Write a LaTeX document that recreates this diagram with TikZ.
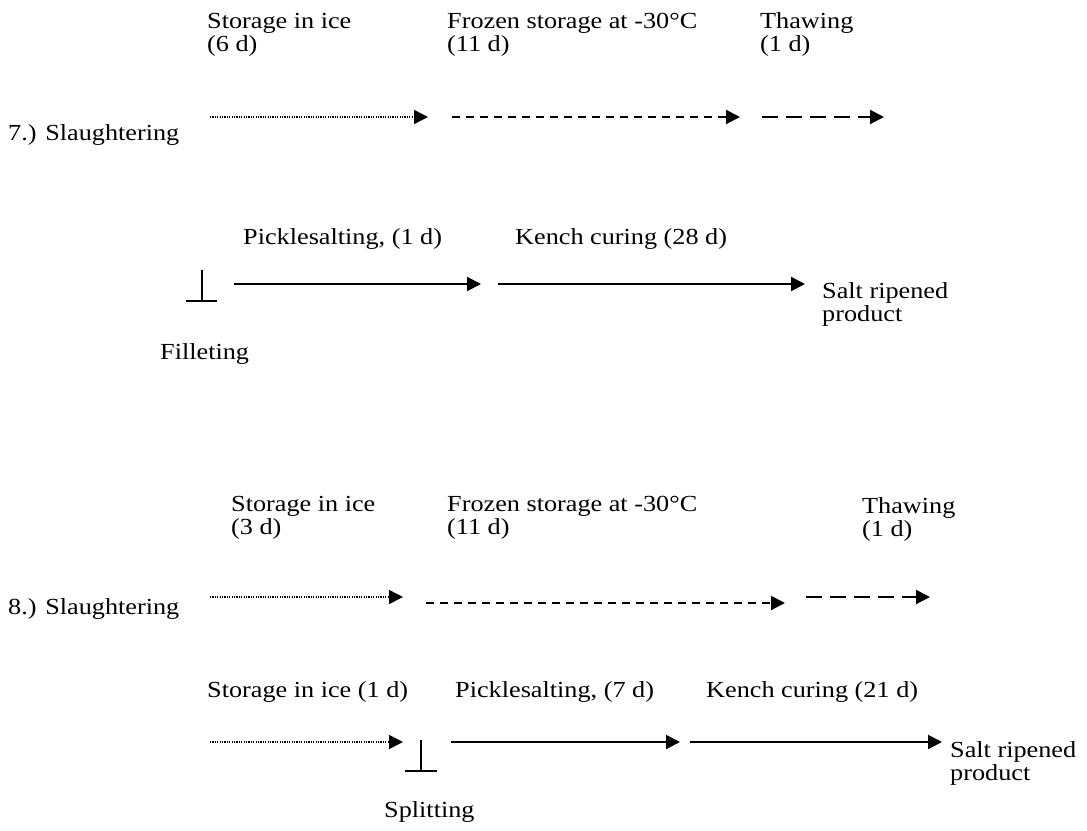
\documentclass[tikz,border=0pt]{standalone}
\usepackage{fontspec}
\setmainfont[FakeStretch=1.14]{Liberation Serif}
\usetikzlibrary{arrows.meta}
\begin{document}
\begin{tikzpicture}[x=1pt,y=-1pt,
 lbl/.style={anchor=base west, inner sep=0pt, align=left, font=\fontsize{23}{23}\selectfont},
 arr/.style={-{Triangle[length=14pt,width=14pt]}, line width=2pt},
 dotarr/.style={arr, line width=1.5pt, dash pattern=on 1.2pt off 1.2pt},
 dasharr/.style={arr, dash pattern=on 8pt off 6pt},
 longdash/.style={arr, dash pattern=on 16pt off 8pt},
 perp/.style={line width=2.5pt}]
\useasboundingbox (0,0) rectangle (1087,830);
% ---------- Block 7 (two-line nodes: base = last line) ----------
\node[lbl] (s7a) at (207,51) {Storage in ice\\(6 d)};
\node[lbl] (s7b) at (447,51) {Frozen storage at -30°C\\(11 d)};
\node[lbl] (s7c) at (760,51) {Thawing\\(1 d)};
\node[lbl] (sl7) at (8,140) {7.) Slaughtering};
\coordinate (a1s) at (210,117); \coordinate (a1e) at (428,117);
\coordinate (a2s) at (452,117); \coordinate (a2e) at (740,117);
\coordinate (a3s) at (762,117); \coordinate (a3e) at (884,117);
\draw[dotarr] (a1s) -- (a1e);
\draw[dasharr] (a2s) -- (a2e);
\draw[longdash] (a3s) -- (a3e);
\node[lbl] (p7) at (243,244) {Picklesalting, (1 d)};
\node[lbl] (k7) at (515,244) {Kench curing (28 d)};
\node[lbl] (r7) at (822,321) {Salt ripened\\product};
\node[lbl] (f7) at (160,359) {Filleting};
\coordinate (pt7) at (202,270); \coordinate (pb7) at (202,301);
\coordinate (pl7) at (186,301); \coordinate (pr7) at (217,301);
\draw[perp] (pt7) -- (pb7) (pl7) -- (pr7);
\coordinate (b1s) at (234,284); \coordinate (b1e) at (481,284);
\coordinate (b2s) at (498,284); \coordinate (b2e) at (805,284);
\draw[arr] (b1s) -- (b1e);
\draw[arr] (b2s) -- (b2e);
% ---------- Block 8 ----------
\node[lbl] (s8a) at (231,534) {Storage in ice\\(3 d)};
\node[lbl] (s8b) at (447,534) {Frozen storage at -30°C\\(11 d)};
\node[lbl] (s8c) at (862,536) {Thawing\\(1 d)};
\node[lbl] (sl8) at (8,614) {8.) Slaughtering};
\coordinate (c1s) at (210,597); \coordinate (c1e) at (403,597);
\coordinate (c2s) at (426,603); \coordinate (c2e) at (785,603);
\coordinate (c3s) at (806,597); \coordinate (c3e) at (930,597);
\draw[dotarr] (c1s) -- (c1e);
\draw[dasharr] (c2s) -- (c2e);
\draw[longdash] (c3s) -- (c3e);
\node[lbl] (i8) at (207,697) {Storage in ice (1 d)};
\node[lbl] (p8) at (455,697) {Picklesalting, (7 d)};
\node[lbl] (k8) at (706,697) {Kench curing (21 d)};
\node[lbl] (r8) at (950,780) {Salt ripened\\product};
\node[lbl] (sp8) at (384,817) {Splitting};
\coordinate (pt8) at (421,740); \coordinate (pb8) at (421,771);
\coordinate (pl8) at (405,771); \coordinate (pr8) at (437,771);
\draw[perp] (pt8) -- (pb8) (pl8) -- (pr8);
\coordinate (d1s) at (210,742); \coordinate (d1e) at (403,742);
\coordinate (d2s) at (451,742); \coordinate (d2e) at (680,742);
\coordinate (d3s) at (690,742); \coordinate (d3e) at (942,742);
\draw[dotarr] (d1s) -- (d1e);
\draw[arr] (d2s) -- (d2e);
\draw[arr] (d3s) -- (d3e);
\end{tikzpicture}
\end{document}
